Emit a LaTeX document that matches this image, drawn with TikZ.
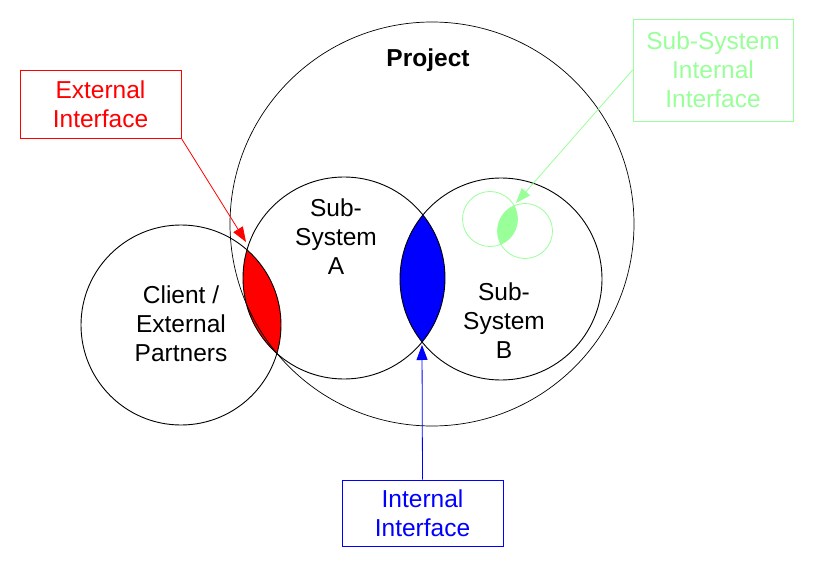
\documentclass[tikz,border=0pt]{standalone}
\usepackage{fontspec}
\setmainfont{Liberation Sans}
\usetikzlibrary{arrows.meta}
\definecolor{litegreen}{RGB}{153,255,153}
\tikzset{
  label text/.style={align=center, font=\fontsize{24.5}{29}\selectfont},
  callout/.style={draw, line width=0.8pt, align=center, inner sep=0pt, font=\fontsize{24.5}{29}\selectfont},
  pointer/.style={-{Triangle[length=15pt,width=11pt]}, line width=0.8pt},
  ring/.style={draw, line width=0.9pt},
}

\begin{document}
\begin{tikzpicture}[x=1pt,y=-1pt]
        \useasboundingbox (0,0) rectangle (813,569);
        % circle centres
        \coordinate (project) at (432,224);
        \coordinate (sysA) at (344,278);
        \coordinate (sysB) at (501,279);
        \coordinate (client) at (181,325);
        \coordinate (subL) at (490,219);
        \coordinate (subR) at (525,231);
        % interfaces
        \begin{scope}
            \clip (client) circle (100);
            \fill[red] (sysA) circle (101);
        \end{scope}
        \begin{scope}
            \clip (sysA) circle (101);
            \fill[blue] (sysB) circle (101);
        \end{scope}
        \begin{scope}
            \clip (subL) circle (27.5);
            \fill[litegreen] (subR) circle (27.5);
        \end{scope}
        \draw[line width=0.7pt] (project) circle (202);
        \draw[ring] (sysA) circle (101);
        \draw[ring] (sysB) circle (101);
        \draw[ring] (client) circle (100);
        \draw[litegreen, line width=0.8pt] (subL) circle (27.5);
        \draw[litegreen, line width=0.8pt] (subR) circle (27.5);
        % labels
        \node[label text, font=\fontsize{24.5}{29}\selectfont\bfseries] (title) at (428,60) {Project};
        \node[label text] (textA) at (336,237) {Sub-\\System\\A};
        \node[label text] (textB) at (504,321) {Sub-\\System\\B};
        \node[label text] (textC) at (181,324) {Client /\\External\\Partners};
        % callouts
        \node[callout, red, minimum width=161, minimum height=68] (extbox) at (100.5,104) {External\\Interface};
        \node[callout, litegreen, minimum width=160, minimum height=102] (subbox) at (713,70) {Sub-System\\Internal\\Interface};
        \node[callout, blue, minimum width=161, minimum height=66] (intbox) at (422.5,513) {Internal\\Interface};
        \coordinate (redtip) at (246,242);
        \coordinate (greentip) at (516,203);
        \coordinate (bluetip) at (422,345);
        \draw[pointer, red] (extbox.south east) -- (redtip);
        \draw[pointer, litegreen] (subbox.west) -- (greentip);
        \draw[pointer, blue] (intbox.north) -- (bluetip);
    \end{tikzpicture}
\end{document}
